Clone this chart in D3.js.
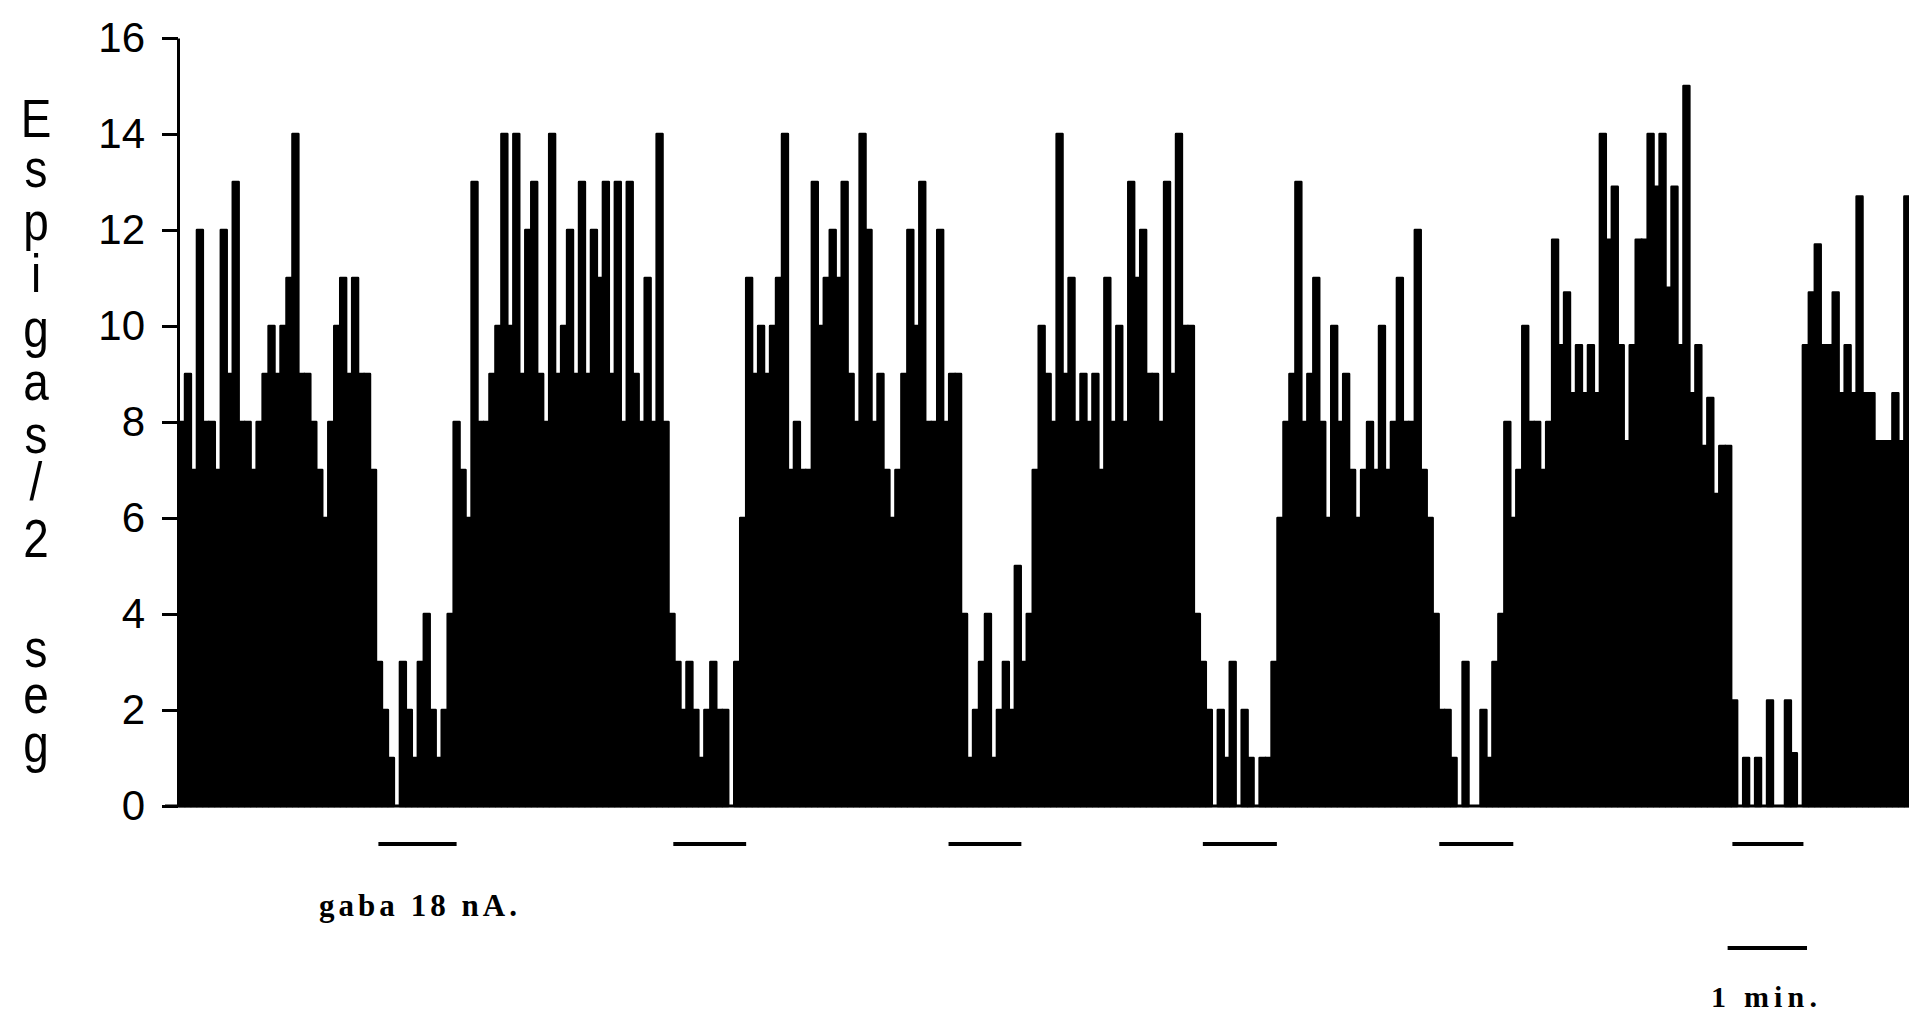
<!DOCTYPE html>
<html>
<head>
<meta charset="utf-8">
<script src="https://cdn.jsdelivr.net/npm/d3@7"></script>
<style>
  html, body { margin: 0; padding: 0; background: #fff; }
  svg { display: block; }
</style>
</head>
<body>
<div id="chart"></div>
<script>
// spikes per 2 s bin, one array per burst/pause cycle
var burst1 = [8, 9, 7, 12, 8, 8, 7, 12, 9, 13, 8, 8, 7, 8, 9, 10, 9, 10, 11, 14, 9, 9, 8, 7, 6, 8, 10, 11, 9, 11, 9, 9, 7,
              3, 2, 1, 0, 3, 2, 1, 3, 4, 2, 1, 2, 4, 8, 7];
var burst2 = [6, 13, 8, 8, 9, 10, 14, 10, 14, 9, 12, 13, 9, 8, 14, 9, 10, 12, 9, 13, 9, 12, 11, 13, 9, 13, 8, 13, 9, 8, 11, 8, 14, 8,
              4, 3, 2, 3, 2, 1, 2, 3, 2, 2, 0, 3, 6, 11, 9];
var burst3 = [10, 9, 10, 11, 14, 7, 8, 7, 7, 13, 10, 11, 12, 11, 13, 9, 8, 14, 12, 8, 9, 7, 6, 7, 9, 12, 10, 13, 8, 8, 12, 8, 9, 9,
              4, 1, 2, 3, 4, 1, 2, 3, 2, 5, 3, 4, 7, 10];
var burst4 = [9, 8, 14, 9, 11, 8, 9, 8, 9, 7, 11, 8, 10, 8, 13, 11, 12, 9, 9, 8, 13, 9, 14, 10, 10,
              4, 3, 2, 0, 2, 1, 3, 0, 2, 1, 0, 1, 1, 3, 6, 8, 9, 13, 8, 9, 11, 8, 6, 10];
var burst5 = [8, 9, 7, 6, 7, 8, 7, 10, 7, 8, 11, 8, 8, 12, 7, 6,
              4, 2, 2, 1, 0, 3, 0, 0, 2, 1, 3, 4,
              8, 6, 7, 10, 8, 8, 7, 8, 11.8, 9.6, 10.7, 8.6, 9.6, 8.6, 9.6, 8.6, 14, 11.8, 12.9, 9.6];
var burst6 = [7.6, 9.6, 11.8, 11.8, 14, 12.9, 14, 10.8, 12.9, 9.6, 15, 8.6, 9.6, 7.5, 8.5, 6.5, 7.5, 7.5,
              2.2, 0, 1, 0, 1, 0, 2.2, 0, 0, 2.2, 1.1, 0,
              9.6, 10.7, 11.7, 9.6, 9.6, 10.7, 8.6, 9.6, 8.6, 12.7, 8.6, 8.6, 7.6, 7.6, 7.6, 8.6, 7.6, 12.7];

var yTicks = [0, 2, 4, 6, 8, 10, 12, 14, 16];

// gaba application marks, in bin units
var gabaStart = [33.4, 82.8, 128.9, 171.5, 211.1, 260.2];
var gabaEnd   = [46.5, 95.0, 141.1, 183.9, 223.5, 272.1];

// 1 min scale bar, in bin units
var scaleStart = 259.4, scaleEnd = 272.7;

var yLetters = ["E", "s", "p", "i", "g", "a", "s", "/", "2", "s", "e", "g"];

window.onload = function() {
    var counts = burst1.concat(burst2, burst3, burst4, burst5, burst6);

    var W = 1909, H = 1015;
    var svg = d3.select("#chart").append("svg")
        .attr("width", W)
        .attr("height", H);

    var x = d3.scaleLinear()
        .domain([0, counts.length])
        .range([179, 179 + counts.length * 5.97]);

    var y = d3.scaleLinear()
        .domain([0, 16])
        .range([806, 38]);

    // histogram columns (stroke gives the pen-plotter ink spread)
    svg.append("g")
      .selectAll("rect")
      .data(counts)
      .enter().append("rect")
        .attr("x", function(d, i) { return x(i); })
        .attr("width", function(d, i) { return x(i + 1) - x(i); })
        .attr("y", function(d) { return y(d); })
        .attr("height", function(d) { return y(0) - y(d); })
        .attr("fill", "#000")
        .attr("stroke", "#000")
        .attr("stroke-width", 2.4)
        .attr("stroke-linejoin", "round");

    // baseline
    svg.append("line")
        .attr("x1", 165).attr("x2", W)
        .attr("y1", y(0)).attr("y2", y(0))
        .attr("stroke", "#000")
        .attr("stroke-width", 3);

    // y axis
    var yAxis = svg.append("g")
        .attr("transform", "translate(178,0)")
        .call(d3.axisLeft(y).tickValues(yTicks).tickSize(16).tickSizeOuter(0).tickPadding(17));
    yAxis.select(".domain").attr("stroke-width", 3);
    yAxis.selectAll(".tick line").attr("stroke-width", 3);
    yAxis.selectAll(".tick text")
        .attr("font-family", "'Liberation Sans', Arial, sans-serif")
        .attr("font-size", 42)
        .attr("fill", "#000");

    // stacked y title "Espigas/2 seg"
    var letterY = [137, 187, 240, 292, 347, 400, 453, 500, 557, 667, 713, 762];
    svg.append("g")
      .selectAll("text")
      .data(yLetters)
      .enter().append("text")
        .attr("transform", function(d, i) { return "translate(36," + letterY[i] + ") scale(0.85,1)"; })
        .attr("text-anchor", "middle")
        .attr("font-family", "'Liberation Sans', Arial, sans-serif")
        .attr("font-size", 54)
        .attr("fill", "#000")
        .text(function(d) { return d; });

    // gaba marks under the axis
    svg.append("g")
      .selectAll("line")
      .data(gabaStart)
      .enter().append("line")
        .attr("x1", function(d) { return x(d); })
        .attr("x2", function(d, i) { return x(gabaEnd[i]); })
        .attr("y1", 844).attr("y2", 844)
        .attr("stroke", "#000")
        .attr("stroke-width", 4);

    svg.append("text")
        .attr("x", 319).attr("y", 916)
        .attr("font-family", "'Liberation Serif', 'Times New Roman', serif")
        .attr("font-weight", "bold")
        .attr("font-size", 31)
        .attr("textLength", 198)
        .attr("lengthAdjust", "spacing")
        .attr("fill", "#000")
        .text("gaba 18 nA.");

    // time scale bar
    svg.append("line")
        .attr("x1", x(scaleStart)).attr("x2", x(scaleEnd))
        .attr("y1", 948).attr("y2", 948)
        .attr("stroke", "#000")
        .attr("stroke-width", 4);

    svg.append("text")
        .attr("x", 1711).attr("y", 1007)
        .attr("font-family", "'Liberation Serif', 'Times New Roman', serif")
        .attr("font-weight", "bold")
        .attr("font-size", 30)
        .attr("textLength", 106)
        .attr("lengthAdjust", "spacing")
        .attr("fill", "#000")
        .text("1 min.");
};
</script>
</body>
</html>
